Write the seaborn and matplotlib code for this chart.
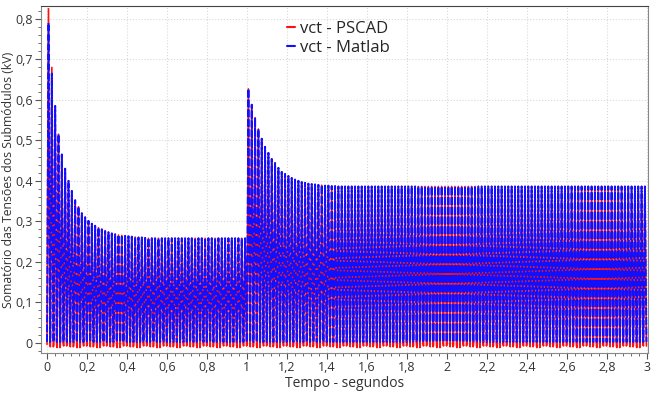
import numpy as np
import pandas as pd
import matplotlib
matplotlib.use("Agg")
import matplotlib.pyplot as plt
from matplotlib.ticker import FuncFormatter, MultipleLocator, AutoMinorLocator
import seaborn as sns

# 60 Hz pulses, one peak per cycle (kV)
freq = 60.0
# 0 .. 1 s : charging transient then flat
peaks_a = [0.79, 0.665, 0.585, 0.515, 0.465, 0.43, 0.40, 0.375, 0.352, 0.336,
           0.320, 0.310, 0.301, 0.294, 0.289, 0.284, 0.280, 0.276, 0.273, 0.270,
           0.268, 0.266, 0.265, 0.264, 0.263, 0.262, 0.261, 0.260, 0.260, 0.259] + [0.258] * 30
# 1 .. 3 s : step, then second transient and flat
peaks_b = [0.627, 0.588, 0.556, 0.528, 0.504, 0.484, 0.469, 0.454, 0.444, 0.432,
           0.422, 0.417, 0.412, 0.407, 0.403, 0.400, 0.397, 0.395, 0.393, 0.392,
           0.391, 0.390, 0.389, 0.388, 0.388, 0.387, 0.387, 0.386] + [0.386] * 92
pscad_first = [0.825, 0.68]           # PSCAD overshoots Matlab on the first two pulses
pscad_valley = [-0.004, -0.010, -0.006, -0.012, -0.003, -0.008]   # small dips below zero
matlab_valley = 0.002

peaks = peaks_a + peaks_b
n = len(peaks)
T = 1.0 / freq

rows = []
for k in range(n):
    t0 = k * T
    p_m = peaks[k]
    p_p = pscad_first[k] if k < len(pscad_first) else peaks[k]
    v_p = pscad_valley[k % len(pscad_valley)]
    for frac, ym, yp in [(0.0, matlab_valley, v_p), (0.45, p_m, p_p), (0.9, matlab_valley, v_p)]:
        rows.append({"t": t0 + frac * T, "vct": ym, "serie": "vct - Matlab"})
        rows.append({"t": t0 + frac * T, "vct": yp, "serie": "vct - PSCAD"})
df = pd.DataFrame(rows)

sns.set_style("whitegrid")
plt.rcParams["font.family"] = ["Open Sans", "DejaVu Sans"]

fig = plt.figure(figsize=(6.51, 3.96), dpi=100)
ax = fig.add_axes([0.063, 0.109, 0.932, 0.876])

ps = df[df["serie"] == "vct - PSCAD"]
ml = df[df["serie"] == "vct - Matlab"]
sns.lineplot(data=ps, x="t", y="vct", color="#ff1010", lw=1.2, sort=False,
             estimator=None, ax=ax, label="vct - PSCAD")
sns.lineplot(data=ml, x="t", y="vct", color="#1010ff", lw=1.4, sort=False,
             estimator=None, ax=ax, label="vct - Matlab", linestyle=(0, (4, 1)))

ax.set_xlim(-0.03, 3.005)
ax.set_ylim(-0.025, 0.832)
ax.xaxis.set_major_locator(MultipleLocator(0.2))
ax.yaxis.set_major_locator(MultipleLocator(0.1))
ax.xaxis.set_minor_locator(AutoMinorLocator(5))
ax.yaxis.set_minor_locator(AutoMinorLocator(5))
fmt = FuncFormatter(lambda v, p: ("%g" % round(v, 2)).replace(".", ","))
ax.xaxis.set_major_formatter(fmt)
ax.yaxis.set_major_formatter(fmt)
ax.tick_params(which="both", direction="out", bottom=True, left=True, color="#555555",
               labelsize=9, labelcolor="#333333", pad=2)
ax.tick_params(which="major", length=4)
ax.tick_params(which="minor", length=2.5)
ax.grid(True, which="major", color="#d8d8d8", lw=0.8, ls=":")
for s in ax.spines.values():
    s.set_color("#888888")
    s.set_linewidth(0.8)
ax.spines["top"].set_color("#444444")

ax.set_xlabel("Tempo - segundos", fontsize=10, color="#333333", labelpad=1)
ax.set_ylabel("Somatório das Tensões dos Submódulos (kV)", fontsize=8.8, color="#333333", labelpad=0)

leg = ax.legend(loc="upper center", bbox_to_anchor=(0.49, 1.0), frameon=False, fontsize=12,
                handlelength=0.5, handletextpad=0.3, labelspacing=0.2)
for h in leg.get_lines():
    h.set_linestyle("-")
    h.set_linewidth(1.5)

fig.savefig("out.png", dpi=100)
